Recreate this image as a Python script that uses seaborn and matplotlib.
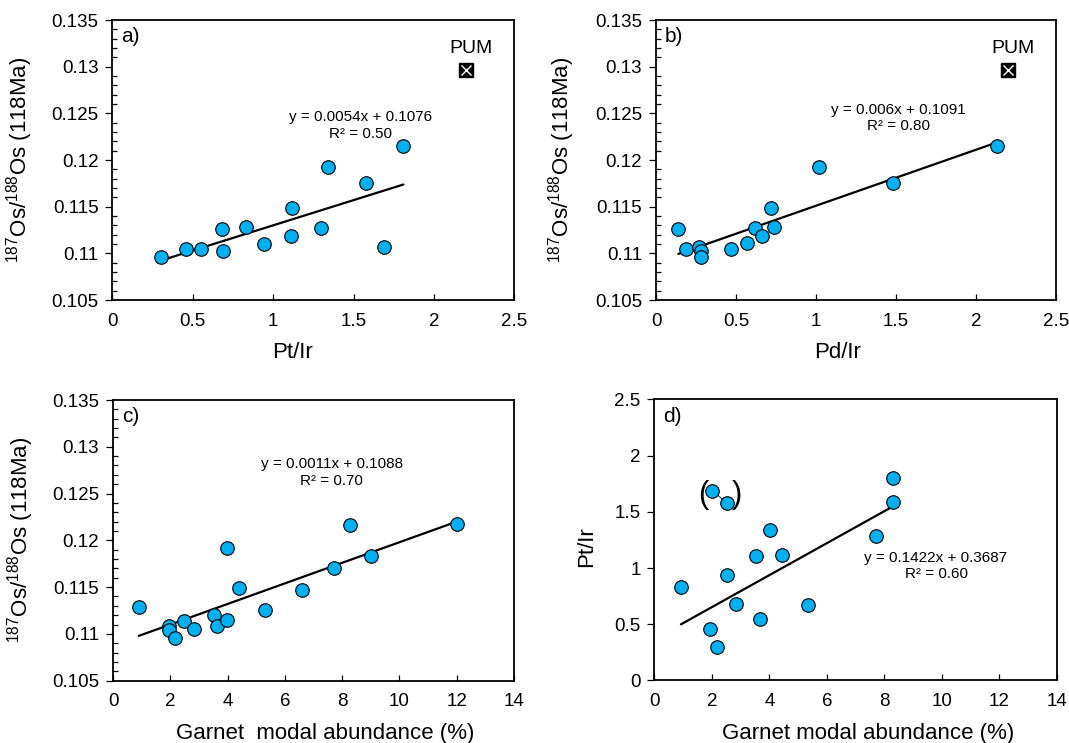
import matplotlib
matplotlib.use("Agg")
import matplotlib.pyplot as plt
import seaborn as sns
import numpy as np
import pandas as pd
from matplotlib.ticker import MultipleLocator

# ---------------------------------------------------------------------------
# data
# ---------------------------------------------------------------------------

ptir_a = [0.30, 0.46, 0.55, 0.68, 0.69, 0.83, 0.94, 1.12, 1.11, 1.30, 1.34, 1.58, 1.69, 1.81]
os_a = [0.1096, 0.1105, 0.1105, 0.1126, 0.1103, 0.1128, 0.1110, 0.1149, 0.1119,
        0.1127, 0.1192, 0.1175, 0.1107, 0.1215]

pdir_b = [0.14, 0.19, 0.27, 0.28, 0.28, 0.47, 0.57, 0.62, 0.66, 0.72, 0.74, 1.02, 1.48, 2.13]
os_b = [0.1126, 0.1105, 0.1107, 0.1102, 0.1096, 0.1105, 0.1111, 0.1127, 0.1119,
        0.1149, 0.1128, 0.1192, 0.1175, 0.1215]

garnet_c = [0.90, 1.97, 1.94, 2.16, 2.48, 2.83, 3.52, 3.62, 3.99, 3.98, 4.41, 5.31,
            6.59, 7.71, 8.28, 9.01, 12.0]
os_c = [0.1129, 0.1108, 0.1104, 0.1096, 0.1114, 0.1105, 0.1120, 0.1108, 0.1115,
        0.1192, 0.1149, 0.1126, 0.1147, 0.1170, 0.1216, 0.1183, 0.1217]

garnet_d = [0.92, 1.94, 2.18, 2.51, 2.85, 3.53, 3.66, 4.01, 4.43, 5.33, 7.71, 8.29, 8.29]
ptir_d = [0.83, 0.46, 0.30, 0.94, 0.68, 1.11, 0.55, 1.34, 1.12, 0.67, 1.29, 1.59, 1.80]
# bracketed (excluded) pair in d)
garnet_excl = [2.01, 2.52]
ptir_excl = [1.69, 1.58]

# primitive upper mantle reference point
pum_ratio = 2.2
pum_os = 0.1296

# linear fits as printed on the panels: (slope, intercept, label)
fit_a = (0.0054, 0.1076, "y = 0.0054x + 0.1076\nR² = 0.50")
fit_b = (0.006, 0.1091, "y = 0.006x + 0.1091\nR² = 0.80")
fit_c = (0.0011, 0.1088, "y = 0.0011x + 0.1088\nR² = 0.70")
fit_d = (0.1422, 0.3687, "y = 0.1422x + 0.3687\nR² = 0.60")

OS_LABEL = r"$^{187}$Os/$^{188}$Os (118Ma)"
BLUE = "#00B0F0"

# ---------------------------------------------------------------------------
# style
# ---------------------------------------------------------------------------

sns.set_style("ticks")
plt.rcParams["font.family"] = ["Liberation Sans", "DejaVu Sans"]
plt.rcParams["mathtext.fontset"] = "custom"
plt.rcParams["mathtext.rm"] = "Liberation Sans"
plt.rcParams["axes.edgecolor"] = "black"
plt.rcParams["axes.linewidth"] = 1.3
plt.rcParams["text.color"] = "black"
plt.rcParams["axes.labelcolor"] = "black"
plt.rcParams["xtick.color"] = "black"
plt.rcParams["ytick.color"] = "black"

TICK_FS = 13.5
LABEL_FS = 16
EQ_FS = 11


def scatter(ax, x, y):
    df = pd.DataFrame({"x": x, "y": y})
    sns.scatterplot(data=df, x="x", y="y", ax=ax, s=95, color=BLUE,
                    edgecolor="black", linewidth=0.8, zorder=3, legend=False)


def fit_line(ax, x, fit):
    slope, icpt, _ = fit
    xs = np.array([min(x), max(x)])
    df = pd.DataFrame({"x": xs, "y": slope * xs + icpt})
    sns.lineplot(data=df, x="x", y="y", ax=ax, color="black", lw=1.6, zorder=2)


def style_axes(ax, xlim, xstep, ylim, ystep, yminor=None):
    ax.set_xlim(*xlim)
    ax.set_ylim(*ylim)
    ax.xaxis.set_major_locator(MultipleLocator(xstep))
    ax.yaxis.set_major_locator(MultipleLocator(ystep))
    if yminor:
        ax.yaxis.set_minor_locator(MultipleLocator(yminor))
        ax.tick_params(axis="y", which="minor", direction="in", length=3.5, width=0.9)
    ax.tick_params(axis="x", which="major", direction="in", length=4, width=0.9,
                   labelsize=TICK_FS, pad=9)
    ax.tick_params(axis="y", which="major", direction="out", length=5, width=0.9,
                   labelsize=TICK_FS, pad=5)
    for sp in ax.spines.values():
        sp.set_visible(True)
        sp.set_color("black")
        sp.set_linewidth(1.3)
    ax.yaxis.set_major_formatter(plt.FuncFormatter(lambda v, p: f"{v:g}"))
    ax.xaxis.set_major_formatter(plt.FuncFormatter(lambda v, p: f"{v:g}"))


fig = plt.figure(figsize=(10.69, 7.43), dpi=100)
ax_a = fig.add_axes([0.10515, 0.59623, 0.37595, 0.37685])
ax_b = fig.add_axes([0.61366, 0.59623, 0.37418, 0.37685])
ax_c = fig.add_axes([0.10571, 0.08385, 0.37512, 0.37779])
ax_d = fig.add_axes([0.61225, 0.08412, 0.37624, 0.37820])

# ---- a) ----
scatter(ax_a, ptir_a, os_a)
fit_line(ax_a, ptir_a, fit_a)
ax_a.text(1.543, 0.1237, fit_a[2], ha="center", va="center", fontsize=EQ_FS)

# ---- b) ----
scatter(ax_b, pdir_b, os_b)
fit_line(ax_b, pdir_b, fit_b)
ax_b.text(1.516, 0.1245, fit_b[2], ha="center", va="center", fontsize=EQ_FS)

for ax in (ax_a, ax_b):
    ax.plot([pum_ratio], [pum_os], marker="s", ms=9.5, color="black", mec="black", zorder=4)
    ax.plot([pum_ratio], [pum_os], marker="x", ms=7.5, mew=1.0, color="white", zorder=5)
    ax.text(pum_ratio + 0.03, 0.1310, "PUM", ha="center", va="bottom", fontsize=14)
    style_axes(ax, (0, 2.5), 0.5, (0.105, 0.135), 0.005, yminor=0.001)
    ax.set_ylabel(OS_LABEL, fontsize=LABEL_FS)

ax_a.set_xlabel("Pt/Ir", fontsize=LABEL_FS)
ax_b.set_xlabel("Pd/Ir", fontsize=LABEL_FS)

# ---- c) ----
scatter(ax_c, garnet_c, os_c)
fit_line(ax_c, garnet_c, fit_c)
ax_c.text(7.64, 0.12725, fit_c[2], ha="center", va="center", fontsize=EQ_FS)
style_axes(ax_c, (0, 14), 2, (0.105, 0.135), 0.005, yminor=0.001)
ax_c.set_ylabel(OS_LABEL, fontsize=LABEL_FS)
ax_c.set_xlabel("Garnet  modal abundance (%)", fontsize=LABEL_FS)

# ---- d) ----
ax_d.plot(garnet_excl, ptir_excl, color="black", lw=0.6, zorder=2)
scatter(ax_d, garnet_d + garnet_excl, ptir_d + ptir_excl)
fit_line(ax_d, garnet_d, fit_d)
ax_d.text(9.80, 1.019, fit_d[2], ha="center", va="center", fontsize=EQ_FS)
ax_d.text(1.69, 1.65, "(", ha="center", va="center", fontsize=22)
ax_d.text(2.87, 1.65, ")", ha="center", va="center", fontsize=22)
style_axes(ax_d, (0, 14), 2, (0, 2.5), 0.5)
ax_d.set_ylabel("Pt/Ir", fontsize=LABEL_FS)
ax_d.set_xlabel("Garnet modal abundance (%)", fontsize=LABEL_FS)

# panel letters and label positions
for ax, letter in zip((ax_a, ax_b, ax_c, ax_d), "abcd"):
    ax.text(0.022, 0.975, f"{letter})", transform=ax.transAxes, ha="left", va="top",
            fontsize=15)

ax_a.yaxis.set_label_coords(-0.193, 0.5)
ax_b.yaxis.set_label_coords(-0.198, 0.5)
ax_c.yaxis.set_label_coords(-0.193, 0.5)
ax_d.yaxis.set_label_coords(-0.143, 0.475)
ax_a.xaxis.set_label_coords(0.448, -0.15)
ax_b.xaxis.set_label_coords(0.454, -0.15)
ax_c.xaxis.set_label_coords(0.53, -0.15)
ax_d.xaxis.set_label_coords(0.53, -0.15)

fig.savefig("out.png", dpi=100)
plt.close(fig)
